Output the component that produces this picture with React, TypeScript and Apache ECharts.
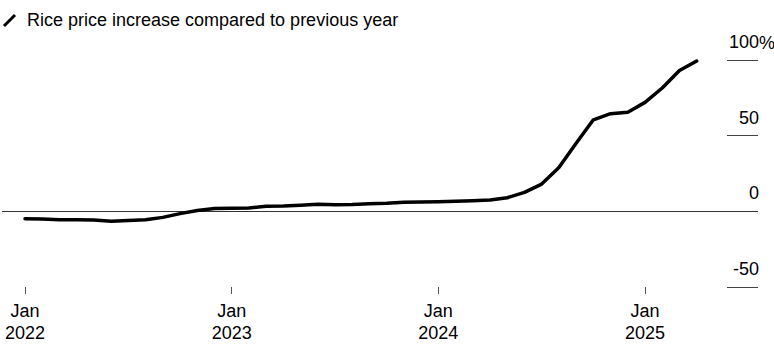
import React, { useEffect, useRef } from "react";
import * as echarts from "echarts";

const months: string[] = [
  "2022-01", "2022-02", "2022-03", "2022-04", "2022-05", "2022-06",
  "2022-07", "2022-08", "2022-09", "2022-10", "2022-11", "2022-12",
  "2023-01", "2023-02", "2023-03", "2023-04", "2023-05", "2023-06",
  "2023-07", "2023-08", "2023-09", "2023-10", "2023-11", "2023-12",
  "2024-01", "2024-02", "2024-03", "2024-04", "2024-05", "2024-06",
  "2024-07", "2024-08", "2024-09", "2024-10", "2024-11", "2024-12",
  "2025-01", "2025-02", "2025-03", "2025-04",
];

const riceIncrease: number[] = [
  -4.9, -5.0, -5.5, -5.5, -5.7, -6.5, -6.0, -5.5, -4.0, -1.5, 0.5, 1.8,
  2.0, 2.2, 3.3, 3.5, 4.0, 4.7, 4.3, 4.5, 5.0, 5.3, 6.0, 6.2,
  6.3, 6.6, 7.0, 7.5, 9.0, 12.5, 18.0, 29.0, 45.0, 60.5, 64.5, 65.5,
  72.0, 81.5, 93.0, 99.3,
];

const tickMonths: string[] = ["2022-01", "2023-01", "2024-01", "2025-01"];
const tickLabels: string[] = ["Jan\n2022", "Jan\n2023", "Jan\n2024", "Jan\n2025"];

const yTicks: number[] = [-50, 0, 50, 100];
const seriesName = "Rice price increase compared to previous year";

const FONT = "'Liberation Sans', Arial, Helvetica, sans-serif";

export default function App() {
  const ref = useRef<HTMLDivElement>(null);

  useEffect(() => {
    if (!ref.current) return;
    const chart = echarts.init(ref.current, undefined, { renderer: "svg" });
    const data = months.map((m, i) => [i, riceIncrease[i]]);
    const tickIdx = tickMonths.map((m) => months.indexOf(m));

    chart.setOption({
      animation: false,
      backgroundColor: "#ffffff",
      textStyle: { fontFamily: FONT },
      grid: {
        left: 2,
        right: 16,
        top: 60,
        bottom: 67,
        containLabel: false,
        outerBoundsMode: "none",
      },
      xAxis: {
        type: "value",
        min: -1.336,
        max: 42.56,
        axisLine: { show: false, onZero: false },
        splitLine: { show: false },
        axisTick: {
          show: true,
          customValues: tickIdx,
          length: 7,
          lineStyle: { color: "#555", width: 1 },
        },
        axisLabel: {
          customValues: tickIdx,
          formatter: (v: number) => {
            const k = tickIdx.indexOf(Math.round(v));
            return k >= 0 ? tickLabels[k] : "";
          },
          fontSize: 18,
          lineHeight: 22,
          color: "#000",
          margin: 13,
          fontFamily: FONT,
        },
      },
      yAxis: {
        type: "value",
        position: "right",
        min: -50,
        max: 100,
        interval: 50,
        axisLine: { show: false, onZero: false },
        splitLine: { show: false },
        axisTick: {
          show: true,
          inside: true,
          length: 31,
          lineStyle: { color: "#444", width: 1 },
        },
        axisLabel: {
          inside: true,
          margin: -1,
          align: "right",
          verticalAlign: "bottom",
          padding: [0, 0, 9, 0],
          fontSize: 18,
          color: "#000",
          fontFamily: FONT,
          formatter: (v: number) => (yTicks.indexOf(v) >= 0 ? String(v) : ""),
        },
      },
      graphic: [
        {
          type: "line",
          shape: { x1: 4, y1: 26, x2: 15, y2: 15 },
          style: { stroke: "#000", lineWidth: 3 },
        },
        {
          type: "text",
          x: 27,
          y: 20,
          style: {
            text: seriesName,
            fontSize: 18,
            fontFamily: FONT,
            fill: "#000",
            verticalAlign: "middle",
          },
        },
        {
          type: "text",
          x: 759,
          y: 43,
          style: {
            text: "%",
            fontSize: 18,
            fontFamily: FONT,
            fill: "#000",
            verticalAlign: "middle",
          },
        },
      ],
      series: [
        {
          name: seriesName,
          type: "line",
          data,
          showSymbol: false,
          smooth: false,
          lineStyle: { color: "#000", width: 3.5, join: "round", cap: "round" },
          z: 3,
          markLine: {
            silent: true,
            symbol: "none",
            label: { show: false },
            lineStyle: { color: "#333", width: 1, type: "solid" },
            data: [{ yAxis: 0 }],
            z: 2,
          },
        },
      ],
    });

    return () => chart.dispose();
  }, []);

  return (
    <div
      ref={ref}
      style={{ position: "fixed", left: 0, top: 0, width: 774, height: 354 }}
    />
  );
}
